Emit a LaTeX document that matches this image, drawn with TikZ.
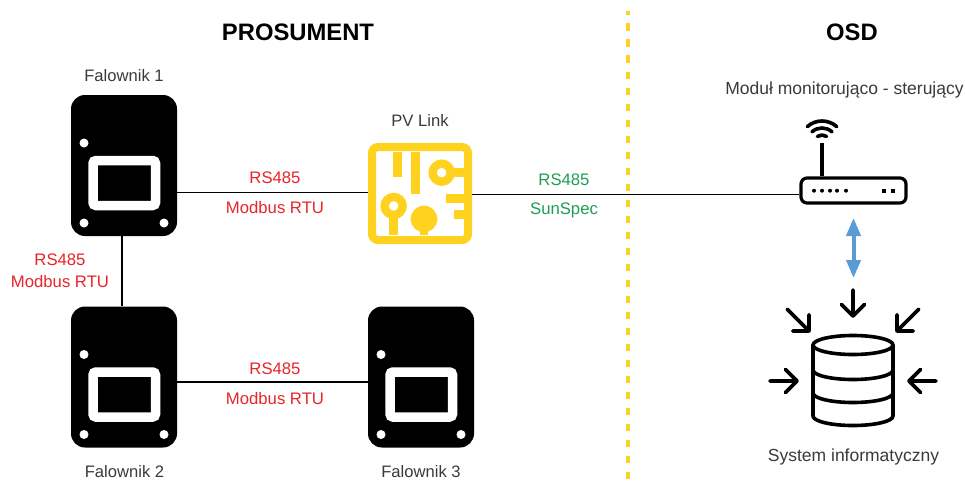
\documentclass[tikz,border=0pt]{standalone}
\usepackage{fontspec}
\setmainfont{Liberation Sans}
\usetikzlibrary{arrows.meta}
\definecolor{linkyellow}{HTML}{FFD21F}
\definecolor{redlabel}{HTML}{E8242A}
\definecolor{greenlabel}{HTML}{1F9D55}
\definecolor{bluearrow}{HTML}{5B9BD5}
\definecolor{greylabel}{HTML}{3A3A3A}
\tikzset{
  inverter/.style={fill=black,rounded corners=14pt,minimum width=106pt,minimum height=141pt,inner sep=0pt},
  linkbox/.style={draw=linkyellow,line width=8pt,rounded corners=6pt,minimum width=96pt,minimum height=93pt,inner sep=0pt},
  routerbox/.style={draw=black,line width=3.2pt,rounded corners=6pt,minimum width=105pt,minimum height=25pt,inner sep=0pt},
  wire/.style={draw=black,line width=1.6pt},
  caption/.style={font=\fontsize{16.6}{20}\selectfont,text=greylabel},
  widecaption/.style={font=\fontsize{17.5}{20}\selectfont,text=greylabel},
  title/.style={font=\fontsize{23.8}{28}\selectfont\bfseries},
  redtext/.style={font=\fontsize{16.7}{20}\selectfont,text=redlabel},
  greentext/.style={font=\fontsize{16.7}{20}\selectfont,text=greenlabel},
  trace/.style={draw=linkyellow,line width=8.4pt},
  icon/.style={draw=black,line width=3.6pt,line cap=round,line join=round}
}
% screen and screws of one inverter, around its node
\newcommand{\inverterface}[1]{
  \begin{scope}[shift={(#1)}]
    \draw[white,line width=9.5pt,rounded corners=3pt] (-31,-5) rectangle (31.5,40);
    \fill[white] (-40,-22.5) circle (4.5);
    \fill[white] (-40,57.5) circle (4.5);
    \fill[white] (40,57.5) circle (4.5);
  \end{scope}
}
\begin{document}
\begin{tikzpicture}[x=1pt,y=-1pt]
  \useasboundingbox (0,0) rectangle (965,487);

  \node[title] (prosument) at (298,32) {PROSUMENT};
  \node[title] (osd) at (852,32) {OSD};
  \draw[linkyellow,line width=4pt,dash pattern=on 7.5pt off 8.5pt,dash phase=3.5pt] (628,11) -- (628,487);

  % inverters
  \node[inverter] (f1) at (124,165.5) {};
  \node[inverter] (f2) at (124,377) {};
  \node[inverter] (f3) at (421,377) {};
  \inverterface{f1}
  \inverterface{f2}
  \inverterface{f3}
  \node[caption] (f1label) at (124,76) {Falownik 1};
  \node[caption] (f2label) at (124.5,472) {Falownik 2};
  \node[caption] (f3label) at (421,472) {Falownik 3};

  % PV link
  \node[linkbox] (link) at (420,193.5) {};
  \node[caption] (linklabel) at (420,120) {PV Link};
  \begin{scope}[shift={(355,135)},x=0.3333pt,y=-0.3333pt]
    \draw[trace] (128,50) -- (128,125);
    \draw[trace] (181,50) -- (181,177);
    \draw[trace] (260,113) circle (27);
    \draw[trace] (290,113) -- (330,113);
    \draw[trace] (272,190) -- (330,190);
    \draw[trace] (298,238) -- (330,238);
    \draw[trace] (116,213) circle (27);
    \draw[trace] (116,240) -- (116,300);
    \fill[linkyellow] (207,252) circle (40);
    \draw[trace] (207,280) -- (207,300);
  \end{scope}

  % router
  \node[routerbox] (router) at (853.5,190.5) {};
  \node[widecaption] (routerlabel) at (844.5,90) {Moduł monitorująco - sterujący};
  \coordinate (antenna) at (822,143);
  \draw[icon,line cap=butt] (router.north -| antenna) -- (antenna);
  \draw[icon] (antenna) ++(-132:22) arc (-132:-48:22);
  \draw[icon] (antenna) ++(-132:15) arc (-132:-48:15);
  \draw[icon] (antenna) ++(-125:8) arc (-125:-55:8);
  \foreach \dotx in {814,822,830,837,846}
    \fill (\dotx,190.7) circle (2);
  \foreach \dotx in {884,893}
    \fill (\dotx-2,188.7) rectangle (\dotx+2,192.7);

  % database
  \coordinate (arrowtop) at (853.5,218);
  \coordinate (arrowbottom) at (853.5,278);
  \draw[bluearrow,line width=4pt,{Triangle[length=18pt,width=14pt]}-{Triangle[length=18pt,width=14pt]}] (arrowtop) -- (arrowbottom);
  \draw[icon] (853,345) ellipse (40 and 9.5);
  \draw[icon] (813,345) -- (813,416) arc (180:0:40 and 9.5) -- (893,345);
  \draw[icon] (813,370) arc (180:0:40 and 9.5);
  \draw[icon] (813,393) arc (180:0:40 and 9.5);
  \node[widecaption] (dblabel) at (853.5,457) {System informatyczny};
  \foreach \tipx/\tipy/\tipangle/\tail in {853/316/-90/26,809/331/-45/31,897/331/-135/31,797/381/0/27,909/381/180/27}
    \draw[icon,shift={(\tipx,\tipy)},rotate=\tipangle] (-\tail,0) -- (0,0) (-11.5,-11.5) -- (0,0) -- (-11.5,11.5);

  % connectors
  \draw[wire] (f1.east |- 0,192.3) -- (link.west |- 0,192.3);
  \draw[wire] (link.east |- 0,194.5) -- (router.west |- 0,194.5);
  \draw[wire] (f1.south -| 122,0) -- (f2.north -| 122,0);
  \draw[wire] (f2.east |- 0,382) -- (f3.west |- 0,382);

  \node[redtext] (rs1) at (275,178) {RS485};
  \node[redtext] (mb1) at (275,208) {Modbus RTU};
  \node[redtext] (rs2) at (60,260) {RS485};
  \node[redtext] (mb2) at (60,282) {Modbus RTU};
  \node[redtext] (rs3) at (275,369) {RS485};
  \node[redtext] (mb3) at (275,399) {Modbus RTU};
  \node[greentext] (rs4) at (564,180) {RS485};
  \node[greentext] (sun) at (564,210.5) {SunSpec};
\end{tikzpicture}
\end{document}
